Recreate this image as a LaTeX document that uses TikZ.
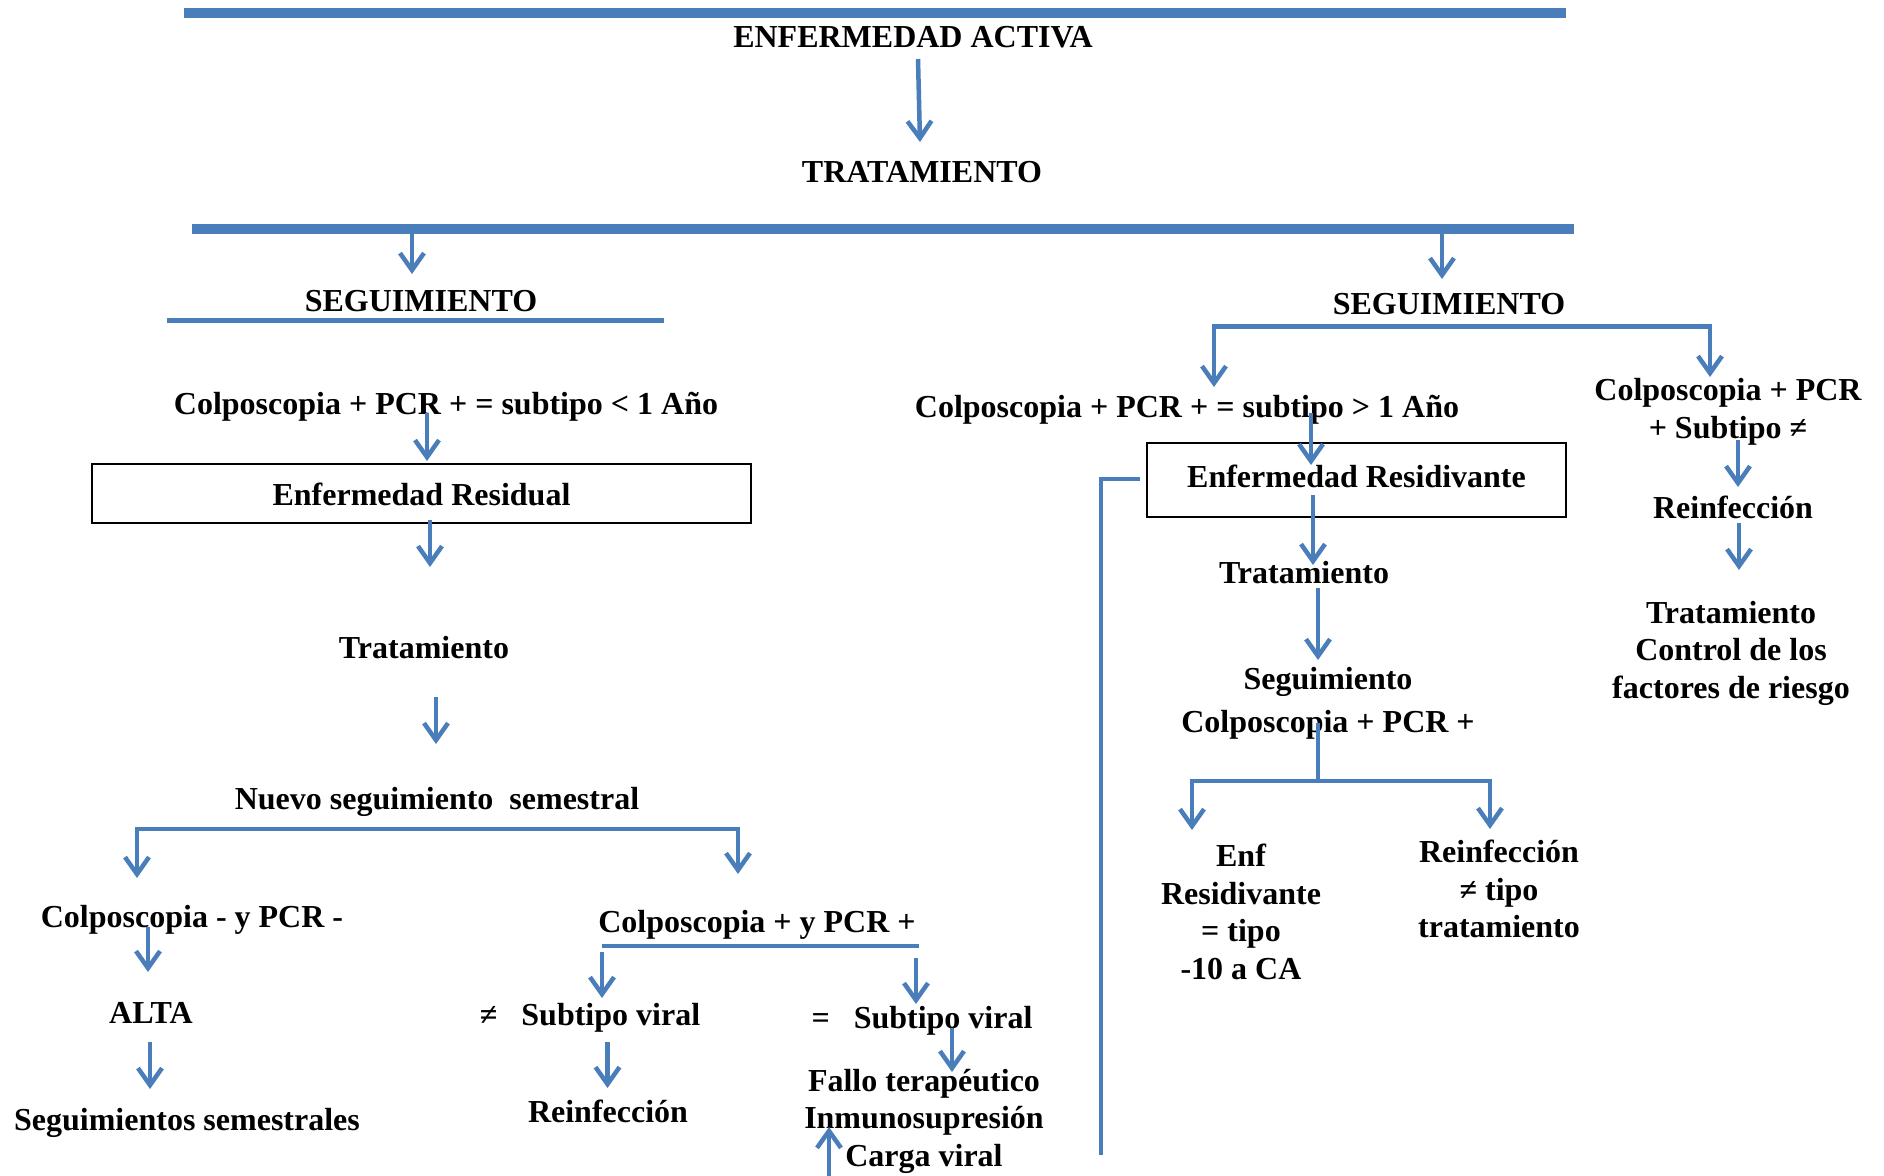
\documentclass[tikz,border=0pt]{standalone}
\usepackage{fontspec}
\setmainfont{Liberation Serif}
\usetikzlibrary{arrows.meta}
\definecolor{lineblue}{RGB}{74,126,187}
\tikzset{
  tip/.tip={Straight Barb[length=17pt,width=24pt]},
  lbl/.style={text height=22pt,text depth=7pt},
  hbar/.style={fill=lineblue,minimum height=#1,text height=0pt,text depth=0pt},
  rbox/.style={draw=black,line width=2.2pt,lbl},
  bline/.style={draw=lineblue,line width=4.5pt},
  arr/.style={bline,-tip},
  arr2/.style={bline,tip-tip}
}
\begin{document}
\begin{tikzpicture}[x=1pt,y=-1pt,every node/.style={font=\fontsize{32}{37.5}\selectfont\bfseries,inner sep=0pt,align=center}]
\useasboundingbox (0,0) rectangle (1884,1175);
\node[hbar=10pt,minimum width=1382pt] (bar1) at (875,12.5) {};
\node[lbl] (ea) at (913,40) {ENFERMEDAD ACTIVA};
\node[lbl] (tr) at (922,175) {TRATAMIENTO};
\node[hbar=10pt,minimum width=1382pt] (bar2) at (883,228.5) {};
\node[lbl] (segL) at (421,304) {SEGUIMIENTO};
\node[hbar=5pt,minimum width=497pt] (ulL) at (415.5,320) {};
\node[lbl] (segR) at (1449,307) {SEGUIMIENTO};
\draw[arr] ([shift={(5,19)}]ea.center) -- ([shift={(-2,-33)}]tr.center);
\draw[arr] ([shift={(-471,5.5)}]bar2.center) -- ([shift={(-9,-30)}]segL.center);
\draw[arr] ([shift={(559,5.5)}]bar2.center) -- ([shift={(-7,-28)}]segR.center);
% left branch
\node[lbl] (cpL) at (446,407) {Colposcopia + PCR + = subtipo < 1 Año};
\node[rbox,text height=26pt,text depth=3pt,minimum width=659pt,minimum height=59pt] (erL) at (421.5,493.5) {Enfermedad Residual};
\node[lbl] (trL) at (424,651) {Tratamiento};
\node[lbl] (nsL) at (437,802) {Nuevo seguimiento\ \ semestral};
\node[lbl] (cnL) at (192,920) {Colposcopia - y PCR -};
\node[lbl] (alta) at (151,1016) {ALTA};
\node[lbl] (ssL) at (187,1123) {Seguimientos semestrales};
\node[lbl] (cpp) at (757,925) {Colposcopia + y PCR +};
\node[lbl] (neqv) at (590,1018) {≠~~~Subtipo viral};
\node[lbl] (reinL) at (608,1115) {Reinfección};
\node[lbl] (eqv) at (922,1021) {=~~~Subtipo viral};
\node (fallo) at (924,1121) {Fallo terapéutico\\Inmunosupresión\\Carga viral};
\draw[arr] ([shift={(-19,6)}]cpL.center) -- ([shift={(5.5,-32.5)}]erL.center);
\draw[arr] ([shift={(8.5,26.5)}]erL.center) -- ([shift={(6,-84)}]trL.center);
\draw[arr] ([shift={(12,46)}]trL.center) -- ([shift={(-1,-58)}]nsL.center);
\draw[arr2] ([shift={(-55,-42)}]cnL.center) |- ([shift={(0,27)}]nsL.center) -| ([shift={(-19,-51)}]cpp.center);
\draw[arr] ([shift={(-44,7)}]cnL.center) -- ([shift={(-3,-44)}]alta.center);
\draw[arr] ([shift={(-1,26)}]alta.center) -- ([shift={(-37,-34)}]ssL.center);
\draw[bline] ([shift={(-155,21)}]cpp.center) -- ([shift={(162,21)}]cpp.center);
\draw[arr] ([shift={(-155,27)}]cpp.center) -- ([shift={(12,-20)}]neqv.center);
\draw[arr] ([shift={(159,33)}]cpp.center) -- ([shift={(-6,-17)}]eqv.center);
\draw[arr] ([shift={(17.5,24)}]neqv.center) -- ([shift={(-0.5,-27)}]reinL.center);
\draw[arr] ([shift={(30,7)}]eqv.center) -- ([shift={(28,-49)}]fallo.center);
\draw[arr] ([shift={(-95,56)}]fallo.center) -- ([shift={(-95,6)}]fallo.center);
% right branch
\node[lbl] (cpR) at (1187,410) {Colposcopia + PCR + = subtipo > 1 Año};
\node (cpR2) at (1728,412) {Colposcopia + PCR\\+ Subtipo ≠};
\node[lbl] (reinR) at (1733,511) {Reinfección};
\node (trR2) at (1731,653) {Tratamiento\\Control de los\\factores de riesgo};
\node[rbox,minimum width=419pt,minimum height=74pt] (erR) at (1356.5,480) {Enfermedad Residivante};
\node[lbl] (trR) at (1304,576) {Tratamiento};
\node[lbl] (segR2) at (1328,682) {Seguimiento};
\node[lbl] (cpR3) at (1328,725) {Colposcopia + PCR +};
\node (enf) at (1241,912) {Enf\\Residivante\\= tipo\\-10 a CA};
\node (reinR2) at (1499,889) {Reinfección\\≠ tipo\\tratamiento};
\coordinate (jR) at (1318,781);
\coordinate (vEnd) at (1101,1155);
\draw[arr2] ([shift={(27,-23)}]cpR.center) |- ([shift={(0,19.5)}]segR.center) -| ([shift={(-18,-35)}]cpR2.center);
\draw[arr] ([shift={(124,3)}]cpR.center) -- ([shift={(-45.5,-15)}]erR.center);
\draw[arr] ([shift={(-43.5,15)}]erR.center) -- ([shift={(9,-11)}]trR.center);
\draw[arr] ([shift={(14,12)}]trR.center) -- ([shift={(-10,-22)}]segR2.center);
\draw[bline] ([shift={(-10,-2)}]cpR3.center) -- (jR);
\draw[arr2] ([shift={(-49,-82)}]enf.center) |- (jR) -| ([shift={(-9,-60)}]reinR2.center);
\draw[arr] ([shift={(10,28)}]cpR2.center) -- ([shift={(5,-24)}]reinR.center);
\draw[arr] ([shift={(6,12)}]reinR.center) -- ([shift={(8,-83)}]trR2.center);
\draw[bline] ([shift={(-216.5,-1)}]erR.center) -| (vEnd);
\end{tikzpicture}
\end{document}
